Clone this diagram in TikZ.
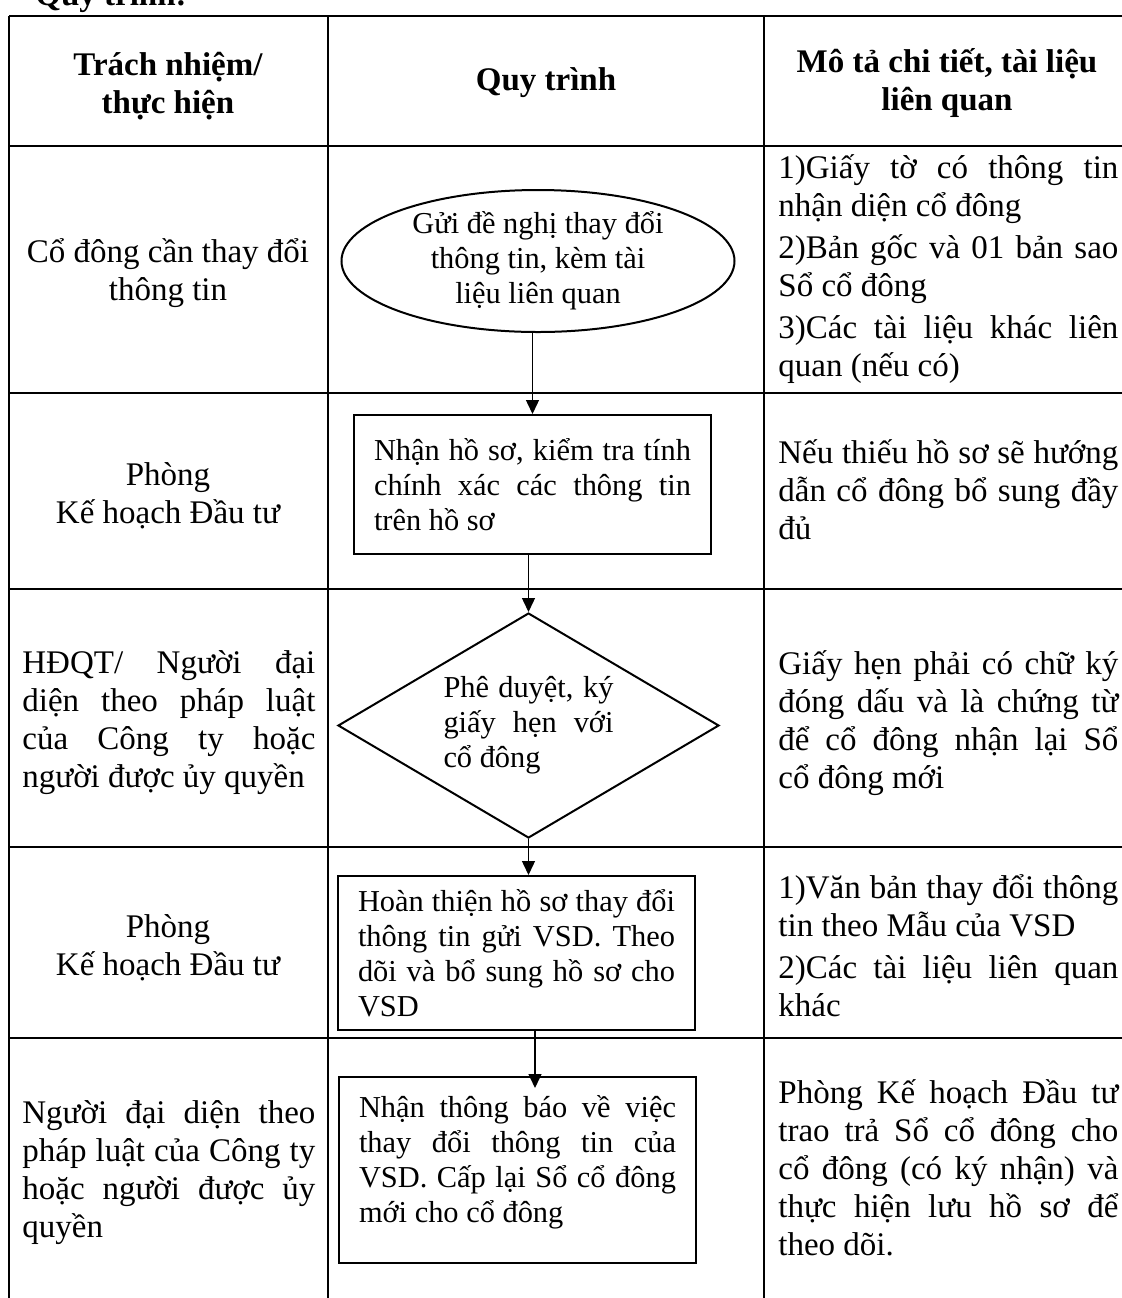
\documentclass[tikz,border=0pt]{standalone}
\usepackage{fontspec}
\setmainfont{Liberation Serif}
\usetikzlibrary{shapes.geometric,arrows.meta}
\tolerance=9999
\hyphenpenalty=10000
\newcommand{\cellfont}{\fontsize{16.5}{19}\selectfont}
\newcommand{\stepfont}{\fontsize{15.2}{17.5}\selectfont}

\begin{document}
\begin{tikzpicture}[x=0.5pt,y=-0.5pt,
    grid/.style={line width=1.1pt},
    hdr/.style={inner sep=0pt,font=\cellfont\bfseries,align=center,anchor=base},
    mid/.style={inner sep=0pt,font=\cellfont,align=center,anchor=base},
    side/.style={inner sep=0pt,font=\cellfont,align=justify,anchor=base west},
    stepbox/.style={draw,line width=1pt,font=\stepfont,minimum width=178.5pt,
      text width=158.5pt,align=justify,inner xsep=10pt,inner ysep=3pt},
    flow/.style={line width=0.7pt,-{Triangle[length=7pt,width=6.5pt]}}]
      \useasboundingbox (0,0) rectangle (1122,1298);
      % table
      \draw[grid] (9,16) -- (1122,16);
      \draw[grid] (9,146) -- (1122,146);
      \draw[grid] (9,393) -- (1122,393);
      \draw[grid] (9,589) -- (1122,589);
      \draw[grid] (9,847) -- (1122,847);
      \draw[grid] (9,1038) -- (1122,1038);
      \draw[grid] (9,16) -- (9,1298);
      \draw[grid] (328,16) -- (328,1298);
      \draw[grid] (764,16) -- (764,1298);
      \node[inner sep=0pt,font=\cellfont\bfseries,anchor=base west] (t) at (35,5) {Quy trình:};
      % header
      \node[hdr] (h1) at (168,113) {Trách nhiệm/\\thực hiện};
      \node[hdr] (h2) at (546,90) {Quy trình};
      \node[hdr] (h3) at (947,110) {Mô tả chi tiết, tài liệu\\liên quan};
      % responsibility
      \node[mid] (r1) at (168,300) {Cổ đông cần thay đổi\\thông tin};
      \node[mid] (r2) at (168,523) {Phòng\\Kế hoạch Đầu tư};
      \node[side,text width=146.5pt] (r3) at (22,673)
        {HĐQT/ Người đại\linebreak diện theo pháp luật\linebreak của Công ty hoặc\linebreak người được ủy quyền};
      \node[mid] (r4) at (168,975) {Phòng\\Kế hoạch Đầu tư};
      \node[side,text width=146.5pt] (r5) at (22,1123)
        {Người đại diện theo\linebreak pháp luật của Công ty\linebreak hoặc người được ủy\linebreak quyền};
      % process
      \node[draw,ellipse,line width=1pt,font=\stepfont,align=center,
        minimum width=196.5pt,minimum height=71pt,inner sep=0pt] (p1) at (538,261)
        {Gửi đề nghị thay đổi\\thông tin, kèm tài\\liệu liên quan};
      \node[stepbox,minimum height=69.5pt] (p2) at (532.5,484.5)
        {Nhận hồ sơ, kiểm tra tính\linebreak chính xác các thông tin\linebreak trên hồ sơ};
      \node[draw,diamond,line width=1pt,font=\stepfont,text width=85pt,align=justify,
        aspect=1.69,inner sep=1pt,minimum width=190.5pt,minimum height=112.5pt] (p3) at (528.5,725.5)
        {Phê duyệt, ký\linebreak giấy hẹn với\linebreak cổ đông};
      \node[stepbox,minimum height=77pt] (p4) at (516.5,953)
        {Hoàn thiện hồ sơ thay đổi\linebreak thông tin gửi VSD. Theo\linebreak dõi và bổ sung hồ sơ cho\linebreak VSD};
      \node[stepbox,minimum height=93pt] (p5) at (517.5,1170)
        {Nhận thông báo về việc\linebreak thay đổi thông tin của\linebreak VSD. Cấp lại Sổ cổ đông\linebreak mới cho cổ đông\par\kern8pt};
      % description
      \node[side,text width=170pt] (d1) at (778,178)
        {1)Giấy tờ có thông tin\linebreak nhận diện cổ đông\par\vspace{2pt}%
         2)Bản gốc và 01 bản sao\linebreak Sổ cổ đông\par\vspace{2pt}%
         3)Các tài liệu khác liên\linebreak quan (nếu có)};
      \node[side,text width=170pt] (d2) at (778,463)
        {Nếu thiếu hồ sơ sẽ hướng\linebreak dẫn cổ đông bổ sung đầy\linebreak đủ};
      \node[side,text width=170pt] (d3) at (778,674)
        {Giấy hẹn phải có chữ ký\linebreak đóng dấu và là chứng từ\linebreak để cổ đông nhận lại Sổ\linebreak cổ đông mới};
      \node[side,text width=170pt] (d4) at (778,898)
        {1)Văn bản thay đổi thông\linebreak tin theo Mẫu của VSD\par\vspace{2pt}%
         2)Các tài liệu liên quan\linebreak khác};
      \node[side,text width=170pt] (d5) at (778,1103)
        {Phòng Kế hoạch Đầu tư\linebreak trao trả Sổ cổ đông cho\linebreak cổ đông (có ký nhận) và\linebreak thực hiện lưu hồ sơ để\linebreak theo dõi.};
      \coordinate (a5) at (535,1088);
      \begin{scope}[flow]
        \draw (p1.south -| p2.north) to (p2.north);
        \draw (p2.south -| p3.north) to (p3.north);
        \draw (p3.south) to (p3.south |- p4.north);
        \draw (p4.south -| a5) to (a5);
      \end{scope}
    \end{tikzpicture}
\end{document}
